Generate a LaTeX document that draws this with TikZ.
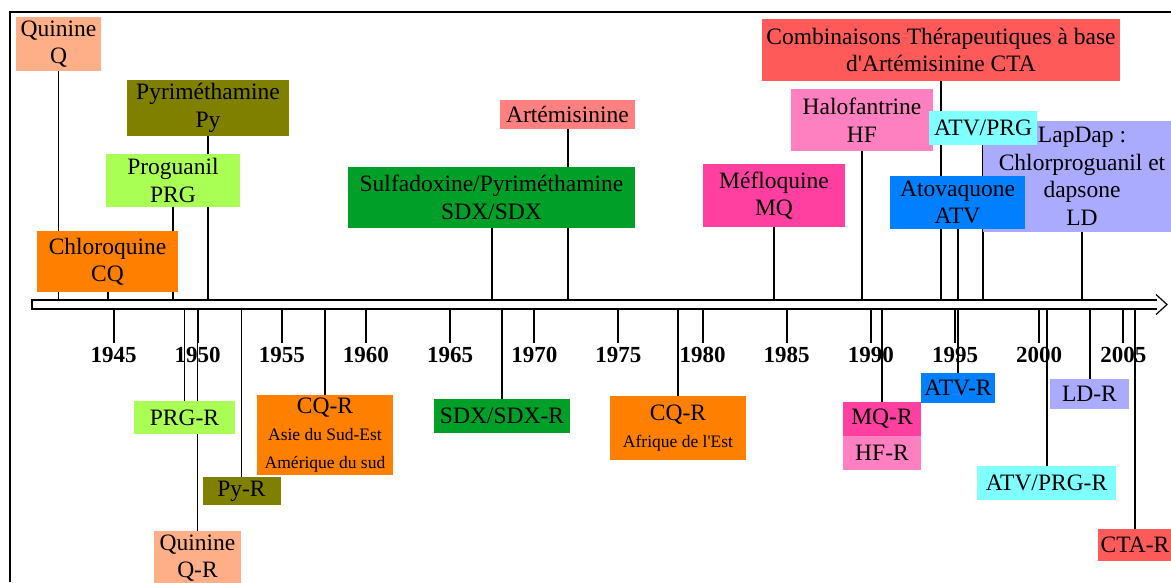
\documentclass[tikz,border=0pt]{standalone}
\usepackage{fontspec}
\setmainfont{Liberation Serif}

\definecolor{colQ}{RGB}{255,175,135}
\definecolor{colPy}{RGB}{128,128,0}
\definecolor{colPRG}{RGB}{170,255,85}
\definecolor{colCQ}{RGB}{255,128,0}
\definecolor{colART}{RGB}{255,128,128}
\definecolor{colSDX}{RGB}{0,160,40}
\definecolor{colCTA}{RGB}{255,90,90}
\definecolor{colHF}{RGB}{255,128,192}
\definecolor{colMQ}{RGB}{255,64,160}
\definecolor{colATVPRG}{RGB}{128,255,255}
\definecolor{colATV}{RGB}{0,128,255}
\definecolor{colLD}{RGB}{170,170,255}

\newcommand\petit{\fontsize{17.5}{26.5}\selectfont}

\pgfdeclarelayer{bg}
\pgfsetlayers{bg,main}

\tikzset{
    drug/.style={fill=#1, inner sep=0pt, align=center, font=\fontsize{23.5}{27.5}\selectfont},
    dims/.style 2 args={minimum width=#1pt, minimum height=#2pt},
    link/.style={line width=2pt},
    thinlink/.style={line width=1.1pt},
    yeartick/.style={line width=2pt},
    yearlbl/.style={font=\fontsize{23}{26}\selectfont\bfseries, anchor=base},
}

\begin{document}
\begin{tikzpicture}[x=1pt,y=-1pt]
    \useasboundingbox (0,0) rectangle (1171,582);
    % Frame
    \draw[line width=2pt] (9.5,582) -- (9.5,12) -- (1171,12);
    % Time axis
    \draw[line width=1.2pt] (1157,300) -- (32,300) -- (32,309) -- (1157,309);
    \draw[line width=1.2pt] (1156,294.5) -- (1167,304.5) -- (1156,314.5);
    \coordinate (axtop) at (0,300);
    \coordinate (axbot) at (0,309);
    % Years
    \foreach \yr [count=\i from 0] in {1945,1950,...,2005} {
        \pgfmathsetmacro\xx{113.5+84.15*\i}
        \draw[yeartick] (\xx,309) -- (\xx,343);
        \node[yearlbl] (y\yr) at (\xx,362.5) {\yr};
    }

    % Drugs above the axis
    \node[drug=colQ,dims={85}{54}] (q) at (58.5,44) {Quinine\\Q};
    \node[drug=colPy,dims={162}{56}] (py) at (208,108) {Pyriméthamine\\Py};
    \node[drug=colPRG,dims={134}{53}] (prg) at (173,180.5) {Proguanil\\PRG};
    \node[drug=colCQ,dims={141}{61}] (cq) at (107.5,261.5) {Chloroquine\\CQ};
    \node[drug=colART,dims={135}{29}] (art) at (567.5,114.5) {Artémisinine};
    \node[drug=colSDX,dims={287}{61}] (sdx) at (491.5,197.5) {Sulfadoxine/Pyriméthamine\\SDX/SDX};
    \node[drug=colCTA,dims={358}{62}] (cta) at (941,50) {Combinaisons Thérapeutiques à base\\d\textquotesingle Artémisinine CTA};
    \node[drug=colHF,dims={142}{62}] (hf) at (862,120) {Halofantrine\\HF};
    \node[drug=colMQ,dims={142}{63}] (mq) at (774,195.5) {Méfloquine\\MQ};
    \node[drug=colLD,dims={198}{111}] (ld) at (1082,176.5) {LapDap :\\Chlorproguanil et\\dapsone\\LD};
    \node[drug=colATVPRG,dims={108}{34}] (atvprg) at (983,128) {ATV/PRG};
    \node[drug=colATV,dims={135}{53}] (atv) at (957.5,202.5) {Atovaquone\\ATV};

    % Resistances below the axis
    \node[drug=colPRG,dims={101}{33}] (prgr) at (184.5,417.5) {PRG-R};
    \node[drug=colQ,dims={87}{54}] (qr) at (197.5,558) {Quinine\\Q-R};
    \node[drug=colPy,dims={78}{28}] (pyr) at (241.5,491) {Py-R};
    \node[drug=colCQ,dims={136}{80}] (cqra) at (325,435) {CQ-R\\\petit Asie du Sud-Est\\\petit Amérique du sud};
    \node[drug=colSDX,dims={136}{34}] (sdxr) at (502,416) {SDX/SDX-R};
    \node[drug=colCQ,dims={136}{64}] (cqrb) at (678,428) {CQ-R\\\petit Afrique de l\textquotesingle Est};
    \node[drug=colMQ,dims={78}{34}] (mqr) at (882,419) {MQ-R};
    \node[drug=colHF,dims={78}{34}] (hfr) at (882,453) {HF-R};
    \node[drug=colATV,dims={74}{30}] (atvr) at (958,388) {ATV-R};
    \node[drug=colATVPRG,dims={139}{34}] (atvprgr) at (1046.5,483) {ATV/PRG-R};
    \node[drug=colLD,dims={79}{30}] (ldr) at (1089.5,394) {LD-R};
    \node[drug=colCTA,dims={74}{32}] (ctar) at (1135,545) {CTA-R};

    % Links to the axis
    \begin{pgfonlayer}{bg}
        \foreach \n in {py,prg,cq,art,sdx,cta,hf,mq,ld,atvprg,atv}
            \draw[link] (\n.south) -- (\n.south |- axtop);
        \draw[thinlink] (q.south) -- (q.south |- axtop);
        \foreach \n in {cqra,sdxr,cqrb,mqr,atvr,atvprgr,ldr,ctar}
            \draw[link] (\n.north) -- (\n.north |- axbot);
        \foreach \n in {prgr,qr,pyr}
            \draw[thinlink] (\n.north) -- (\n.north |- axbot);
    \end{pgfonlayer}
\end{tikzpicture}
\end{document}
